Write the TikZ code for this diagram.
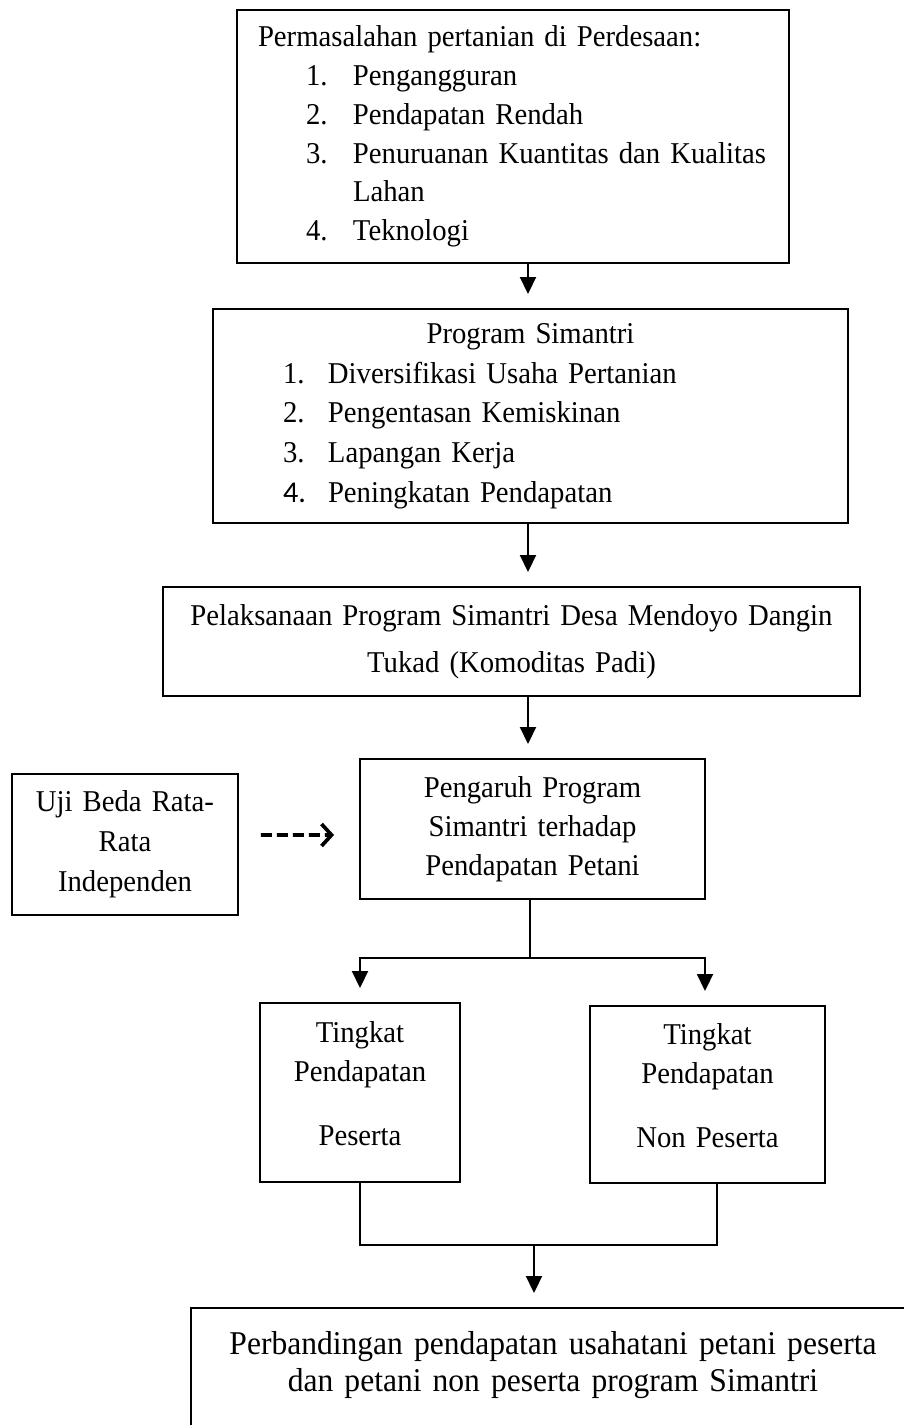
\documentclass[tikz,border=0pt]{standalone}
\usepackage{fontspec}
\setmainfont{Liberation Serif}[FakeStretch=0.95]
\newfontfamily\angkafont{Carlito}
\usetikzlibrary{arrows.meta}

\begin{document}
\begin{tikzpicture}[
    kotak/.style={draw, line width=1.1pt, inner sep=0pt, font=\fontsize{17.2}{22.1}\selectfont},
    panah/.style={line width=1.1pt, -{Triangle[length=0.34cm,width=0.32cm]}, shorten >=0.28cm},
    garis/.style={line width=1.1pt},
    putus/.style={line width=2.1pt, dash pattern=on 0.22cm off 0.1cm,
        -{Straight Barb[length=0.2cm,width=0.44cm]}, shorten <=0.44cm, shorten >=0.5cm}
]
% Page frame
\path[use as bounding box, clip] (0,0) rectangle (18.08,-28.5);
\coordinate (poros) at (10.56,0);

% Problem box
\node[kotak, minimum width=11.04cm, minimum height=5.06cm, text width=11.04cm, align=left]
    (masalah) at (10.26,-2.73) {%
    \hspace*{0.42cm}Permasalahan pertanian di Perdesaan:\\
    \hspace*{1.38cm}\makebox[0.94cm][l]{1.}Pengangguran\\
    \hspace*{1.38cm}\makebox[0.94cm][l]{2.}Pendapatan Rendah\\
    \hspace*{1.38cm}\makebox[0.94cm][l]{3.}Penuruanan Kuantitas dan Kualitas\\
    \hspace*{2.32cm}Lahan\\
    \hspace*{1.38cm}\makebox[0.94cm][l]{4.}Teknologi};

% Program box
\node[kotak, minimum width=12.7cm, minimum height=4.28cm, text width=12.7cm, align=left]
    (program) at (10.61,-8.32) {%
    \makebox[12.7cm]{Program Simantri}\\[0.5pt]
    \hspace*{1.4cm}\makebox[0.9cm][l]{1.}Diversifikasi Usaha Pertanian\\[0.5pt]
    \hspace*{1.4cm}\makebox[0.9cm][l]{2.}Pengentasan Kemiskinan\\[0.5pt]
    \hspace*{1.4cm}\makebox[0.9cm][l]{3.}Lapangan Kerja\\[0.5pt]
    \hspace*{1.4cm}\makebox[0.9cm][l]{\angkafont 4.}Peningkatan Pendapatan};

% Implementation box
\node[kotak, minimum width=13.94cm, minimum height=2.18cm, text width=13.94cm, align=center]
    (pelaksanaan) at (10.23,-12.83)
    {Pelaksanaan Program Simantri Desa Mendoyo Dangin\\[4.6pt] Tukad (Komoditas Padi)};

% Effect box and test box
\node[kotak, minimum width=6.9cm, minimum height=2.8cm, text width=6.9cm, align=center]
    (pengaruh) at (10.65,-16.58) {Pengaruh Program\\Simantri terhadap\\Pendapatan Petani};
\node[kotak, minimum width=4.52cm, minimum height=2.82cm, text width=4.52cm, align=center]
    (uji) at (2.5,-16.89) {Uji Beda Rata-\\[0.7pt]Rata\\[0.7pt]Independen};

% Income level boxes
\node[kotak, minimum width=4.0cm, minimum height=3.58cm, text width=4.0cm, align=center]
    (peserta) at (7.2,-21.85) {Tingkat\\Pendapatan\\[14pt]Peserta\\[-12pt]\mbox{}};
\node[kotak, minimum width=4.7cm, minimum height=3.54cm, text width=4.7cm, align=center]
    (nonpeserta) at (14.15,-21.89) {Tingkat\\Pendapatan\\[14pt]Non Peserta\\[-12pt]\mbox{}};

% Comparison box
\node[kotak, minimum width=14.48cm, minimum height=2.88cm, text width=14.48cm, align=center,
    font=\fontsize{18.9}{21}\selectfont]
    (banding) at (11.06,-27.6)
    {Perbandingan pendapatan usahatani petani peserta\\dan petani non peserta program Simantri\\\mbox{}};

% Arrows
\draw[panah] (masalah.south -| poros) -- (program.north -| poros);
\draw[panah] (program.south -| poros) -- (pelaksanaan.north -| poros);
\draw[panah] (pelaksanaan.south -| poros) -- (pengaruh.north -| poros);
\draw[putus] ([yshift=0.19cm]uji.east) -- ([yshift=-0.12cm]pengaruh.west);

\coordinate (cabang) at (10.6,-19.16);
\draw[garis] (pengaruh.south -| cabang) -- (cabang);
\draw[panah] (cabang) -| (peserta.north);
\draw[panah] (cabang) -| ([xshift=-0.05cm]nonpeserta.north);

\coordinate (gabung) at (10.68,-24.9);
\coordinate (ujungkanan) at (14.34,-24.9);
\draw[garis] (peserta.south) |- (ujungkanan) -- (ujungkanan |- nonpeserta.south);
\draw[panah] (gabung) -- (gabung |- banding.north);
\end{tikzpicture}
\end{document}
